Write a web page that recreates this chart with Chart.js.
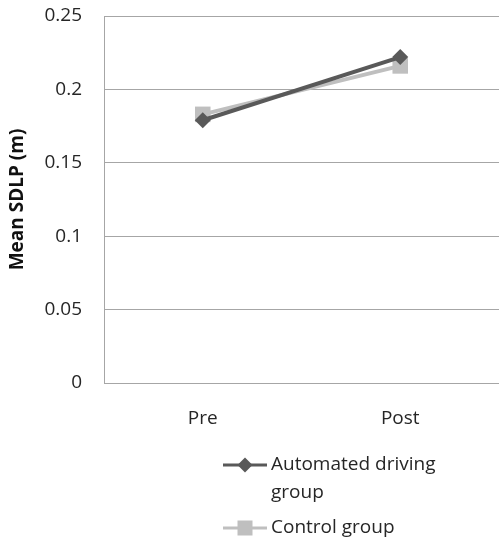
<!DOCTYPE html>
<html>
<head>
<meta charset="utf-8">
<script src="https://cdn.jsdelivr.net/npm/chart.js@4"></script>
<style>
html, body { margin: 0; padding: 0; background: #fff; overflow: hidden; }
canvas { display: block; }
</style>
</head>
<body>
<canvas id="myChart" width="499" height="539"></canvas>
<script>
// Chart data
const categories = ['Pre', 'Post'];
const automatedValues = [0.179, 0.222];
const controlValues = [0.183, 0.216];
const seriesNames = ['Automated driving group', 'Control group'];
const yTickLabels = ['0', '0.05', '0.1', '0.15', '0.2', '0.25'];
const yTitle = 'Mean SDLP (m)';

const fontFamily = "'Open Sans', sans-serif";
const textColor = '#262626';
const gridColor = '#a6a6a6';
const darkGray = '#595959';
const lightGray = '#bfbfbf';

// Draw one legend marker (short line with the series' point on it)
function drawMarker(ctx, ds, x, y) {
    ctx.save();
    ctx.strokeStyle = ds.borderColor;
    ctx.lineWidth = 3;
    ctx.beginPath();
    ctx.moveTo(x, y);
    ctx.lineTo(x + 44, y);
    ctx.stroke();
    ctx.fillStyle = ds.pointBackgroundColor;
    const cx = x + 22;
    ctx.beginPath();
    if (ds.pointStyle === 'rectRot') {
        const r = 7.5;
        ctx.moveTo(cx, y - r);
        ctx.lineTo(cx + r, y);
        ctx.lineTo(cx, y + r);
        ctx.lineTo(cx - r, y);
        ctx.closePath();
    } else {
        ctx.rect(cx - 7.5, y - 7.5, 15, 15);
    }
    ctx.fill();
    ctx.restore();
}

// Legend below the plot, one row per series, long names wrap
const bottomLegend = {
    id: 'bottomLegend',
    afterDraw(chart) {
        const ctx = chart.ctx;
        const area = chart.chartArea;
        const x0 = area.left + 119;
        let y = area.bottom + 82;
        const maxWidth = 180;
        ctx.save();
        ctx.font = '19px ' + fontFamily;
        ctx.fillStyle = textColor;
        ctx.textBaseline = 'middle';
        ctx.textAlign = 'left';
        chart.data.datasets.forEach(ds => {
            drawMarker(ctx, ds, x0, y);
            // simple word wrap
            const words = ds.label.split(' ');
            const lines = [];
            let line = '';
            words.forEach(w => {
                const test = line ? line + ' ' + w : w;
                if (ctx.measureText(test).width > maxWidth && line) {
                    lines.push(line);
                    line = w;
                } else {
                    line = test;
                }
            });
            lines.push(line);
            lines.forEach((t, i) => {
                ctx.fillText(t, x0 + 48, y + i * 28);
            });
            y += (lines.length - 1) * 28 + 35;
        });
        ctx.restore();
    }
};

document.addEventListener('DOMContentLoaded', () => {
    const ctx = document.getElementById('myChart').getContext('2d');
    const myChart = new Chart(ctx, {
        type: 'line',
        data: {
            labels: categories,
            datasets: [{
                label: seriesNames[0],
                data: automatedValues,
                borderColor: darkGray,
                backgroundColor: darkGray,
                pointBackgroundColor: darkGray,
                pointBorderColor: darkGray,
                borderWidth: 4,
                pointStyle: 'rectRot',
                pointRadius: 8,
                pointBorderWidth: 0,
                tension: 0
            }, {
                label: seriesNames[1],
                data: controlValues,
                borderColor: lightGray,
                backgroundColor: lightGray,
                pointBackgroundColor: lightGray,
                pointBorderColor: lightGray,
                borderWidth: 4,
                pointStyle: 'rect',
                pointRadius: 11,
                pointBorderWidth: 0,
                tension: 0
            }]
        },
        options: {
            responsive: false,
            animation: false,
            layout: {
                autoPadding: false,
                padding: { left: 0, right: 0, top: 16, bottom: 106 }
            },
            plugins: {
                legend: { display: false },
                tooltip: { enabled: false }
            },
            scales: {
                x: {
                    offset: true,
                    afterFit(scale) {
                        scale.height = 50;
                        scale.paddingLeft = 0;
                        scale.paddingRight = 0;
                    },
                    grid: { display: false },
                    border: { display: false },
                    ticks: {
                        color: textColor,
                        padding: 16,
                        font: { family: fontFamily, size: 19 }
                    }
                },
                y: {
                    min: 0,
                    max: 0.25,
                    afterFit(scale) {
                        scale.width = 104;
                        scale.paddingTop = 0;
                        scale.paddingBottom = 0;
                    },
                    grid: { color: gridColor, lineWidth: 1, drawTicks: false },
                    border: { display: true, color: gridColor, width: 1 },
                    ticks: {
                        stepSize: 0.05,
                        color: textColor,
                        padding: 22,
                        font: { family: fontFamily, size: 19 },
                        callback: (value, index) => yTickLabels[index]
                    },
                    title: {
                        display: true,
                        text: yTitle,
                        color: '#111111',
                        padding: { top: 6, bottom: 0 },
                        font: { family: fontFamily, size: 19, weight: 'bold' }
                    }
                }
            }
        },
        plugins: [bottomLegend]
    });
});
</script>
</body>
</html>
